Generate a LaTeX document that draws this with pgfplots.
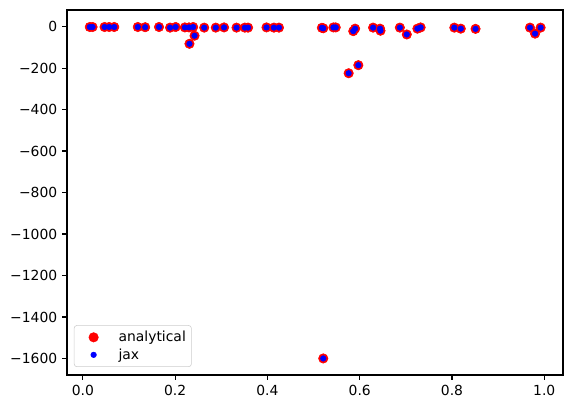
\documentclass[border=0pt]{standalone}
\usepackage{fontspec}
\setmainfont{DejaVu Sans}
\usepackage{pgfplots}
\pgfplotsset{compat=1.18}
\pgfplotstableread{
x y
0.015 -2
0.021 -2
0.047 -2
0.057 -2
0.068 -2
0.119 -2
0.135 -3
0.165 -2
0.189 -5
0.201 -2
0.221 -4
0.230 -4
0.231 -83
0.239 -2
0.242 -44
0.263 -5
0.288 -5
0.306 -4
0.333 -5
0.351 -5
0.358 -5
0.398 -4
0.414 -5
0.425 -5
0.518 -6
0.521 -8
0.521 -1600
0.543 -4
0.548 -4
0.576 -225
0.586 -22
0.590 -10
0.597 -186
0.629 -5
0.644 -10
0.645 -20
0.687 -5
0.702 -38
0.725 -10
0.732 -4
0.805 -5
0.819 -10
0.851 -11
0.969 -5
0.980 -34
0.992 -5
}\datatable
\begin{document}
\begin{tikzpicture}
\path (-48.2pt,-27.4pt) rectangle (363.6pt,270pt);
\begin{axis}[
  at={(0pt,0pt)}, anchor=south west,
  scale only axis, width=357.1pt, height=262.8pt,
  xmin=-0.0345, xmax=1.0405, ymin=-1680, ymax=80,
  axis line style={line width=0.8pt},
  tick align=outside, tick pos=left,
  major tick length=3.5pt,
  every tick/.style={black, line width=0.8pt},
  xtick={0,0.2,0.4,0.6,0.8,1.0},
  xticklabels={0.0,0.2,0.4,0.6,0.8,1.0},
  ytick={-1600,-1400,-1200,-1000,-800,-600,-400,-200,0},
  yticklabels={−1600,−1400,−1200,−1000,−800,−600,−400,−200,0},
  tick label style={font=\fontsize{10pt}{12pt}\selectfont},
  /pgf/number format/assume math mode=true,
  legend style={at={(5pt,5.8pt)}, anchor=south west, draw=black!20, rounded corners=2pt,
    font=\fontsize{10pt}{12pt}\selectfont, inner xsep=4pt, inner ysep=3pt,
    row sep=1.5pt, nodes={inner xsep=0pt, inner ysep=1pt}},
  legend cell align=left,
  legend image code/.code={\path[draw=none,fill=none] (0pt,-3pt) rectangle (28pt,3pt); \draw[#1] plot coordinates {(10pt,0pt)};},
]
\addplot[only marks, mark=*, mark size=3.4pt, color=red, mark options={draw=red, fill=red}] table[x=x,y=y] {\datatable};
\addlegendentry{analytical}
\addplot[only marks, mark=*, mark size=2pt, color=blue, mark options={draw=blue, fill=blue}] table[x=x,y=y] {\datatable};
\addlegendentry{jax}
\end{axis}
\end{tikzpicture}
\end{document}
